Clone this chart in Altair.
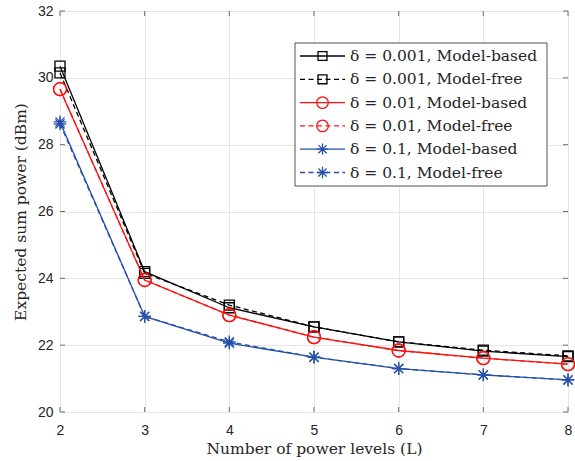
import altair as alt
import pandas as pd

# ---------------- data ----------------
L_values = [2, 3, 4, 5, 6, 7, 8]
d001_model_based = [30.35, 24.20, 23.12, 22.55, 22.10, 21.82, 21.66]
d001_model_free = [30.15, 24.15, 23.20, 22.55, 22.10, 21.85, 21.68]
d01_model_based = [29.66, 23.95, 22.90, 22.24, 21.84, 21.61, 21.43]
d01_model_free = [29.66, 23.95, 22.90, 22.24, 21.84, 21.61, 21.43]
d1_model_based = [28.68, 22.86, 22.06, 21.64, 21.30, 21.11, 20.96]
d1_model_free = [28.62, 22.86, 22.10, 21.64, 21.30, 21.11, 20.96]

series_labels = [
    "δ = 0.001, Model-based",
    "δ = 0.001, Model-free",
    "δ = 0.01, Model-based",
    "δ = 0.01, Model-free",
    "δ = 0.1, Model-based",
    "δ = 0.1, Model-free",
]
series_values = [d001_model_based, d001_model_free, d01_model_based,
                 d01_model_free, d1_model_based, d1_model_free]

x_ticks = [2, 3, 4, 5, 6, 7, 8]
y_ticks = [20, 22, 24, 26, 28, 30, 32]

# ---------------- style ----------------
ASTERISK = "M-1,0L1,0M0,-1L0,1M-0.72,-0.72L0.72,0.72M-0.72,0.72L0.72,-0.72"
colors = ["#000000", "#000000", "#ff1010", "#ff1010", "#2450a8", "#2450a8"]
dashed = [False, True, False, True, False, True]
shapes = ["square", "square", "circle", "circle", ASTERISK, ASTERISK]
msizes = [100, 100, 169, 169, 160, 160]
DASH = [5, 3.5]
SERIF = "DejaVu Serif"

W, H = 508, 401
FRAME = "#6e6e6e"

xs = alt.Scale(domain=[2, 8], nice=False, zero=False)
ys = alt.Scale(domain=[20, 32], nice=False, zero=False)

xaxis = alt.Axis(values=x_ticks, grid=True, gridColor="#e6e6e6", gridWidth=1,
                 ticks=False, domain=False, labelFlush=False,
                 labelFont="Liberation Sans", labelFontSize=14,
                 labelColor="#262626", labelPadding=11,
                 title="Number of power levels (L)", titleFont=SERIF,
                 titleFontSize=15.5, titleFontWeight="normal", titleColor="#262626",
                 titlePadding=4, format="d")
yaxis = alt.Axis(values=y_ticks, grid=True, gridColor="#e6e6e6", gridWidth=1,
                 ticks=False, domain=False, labelFlush=False,
                 labelFont="Liberation Sans", labelFontSize=14,
                 labelColor="#262626", labelPadding=7,
                 title="Expected sum power (dBm)", titleFont=SERIF,
                 titleFontSize=15.5, titleFontWeight="normal", titleColor="#262626",
                 titlePadding=9, format="d")

X = lambda f: alt.X(f, type="quantitative", scale=xs, axis=xaxis)
Y = lambda f: alt.Y(f, type="quantitative", scale=ys, axis=yaxis)

layers = []

# inward tick marks (MATLAB style box)
xt = pd.DataFrame({"t": x_ticks})
yt = pd.DataFrame({"v": y_ticks})
layers.append(alt.Chart(xt).mark_rule(color=FRAME, strokeWidth=1).encode(
    x=X("t"), y=alt.value(H), y2=alt.value(H - 5)))
layers.append(alt.Chart(xt).mark_rule(color=FRAME, strokeWidth=1).encode(
    x=X("t"), y=alt.value(0), y2=alt.value(5)))
layers.append(alt.Chart(yt).mark_rule(color=FRAME, strokeWidth=1).encode(
    y=Y("v"), x=alt.value(0), x2=alt.value(5)))
layers.append(alt.Chart(yt).mark_rule(color=FRAME, strokeWidth=1).encode(
    y=Y("v"), x=alt.value(W), x2=alt.value(W - 5)))

# data series
for lab, vals, c, d, s, ms in zip(series_labels, series_values, colors, dashed, shapes, msizes):
    df = pd.DataFrame({"L": L_values, "P": vals})
    line_kw = dict(color=c, strokeWidth=1.3)
    if d:
        line_kw["strokeDash"] = DASH
    layers.append(alt.Chart(df).mark_line(**line_kw).encode(x=X("L"), y=Y("P")))
    layers.append(alt.Chart(df).mark_point(shape=s, size=ms, filled=False, color=c,
                                           strokeWidth=1.3, opacity=1).encode(
        x=X("L"), y=Y("P")))

# legend box
one = pd.DataFrame({"a": [0]})
layers.append(alt.Chart(one).mark_rect(fill="white", stroke="#262626", strokeWidth=0.8).encode(
    x=alt.value(235), x2=alt.value(487), y=alt.value(32), y2=alt.value(175)))
row_y0, row_dy = 45, 23.3
for i, (lab, c, d, s, ms) in enumerate(zip(series_labels, colors, dashed, shapes, msizes)):
    yy = row_y0 + i * row_dy
    rk = dict(color=c, strokeWidth=1.3)
    if d:
        rk["strokeDash"] = DASH
    layers.append(alt.Chart(one).mark_rule(**rk).encode(
        x=alt.value(240), x2=alt.value(285), y=alt.value(yy)))
    layers.append(alt.Chart(one).mark_point(shape=s, size=ms * 0.8, filled=False, color=c,
                                            strokeWidth=1.3, opacity=1).encode(
        x=alt.value(262.5), y=alt.value(yy)))
    layers.append(alt.Chart(one).mark_text(text=lab, align="left", baseline="middle",
                                           font=SERIF, fontSize=15.5,
                                           color="#262626").encode(
        x=alt.value(290), y=alt.value(yy)))

chart = alt.layer(*layers).properties(
    width=W, height=H,
    autosize=alt.AutoSizeParams(type="none"),
    padding={"left": 60, "top": 11, "right": 7, "bottom": 49},
).configure_view(stroke=FRAME, strokeWidth=1).configure(background="white")

chart.save("out.html", embed_options={"renderer": "svg", "actions": False})
